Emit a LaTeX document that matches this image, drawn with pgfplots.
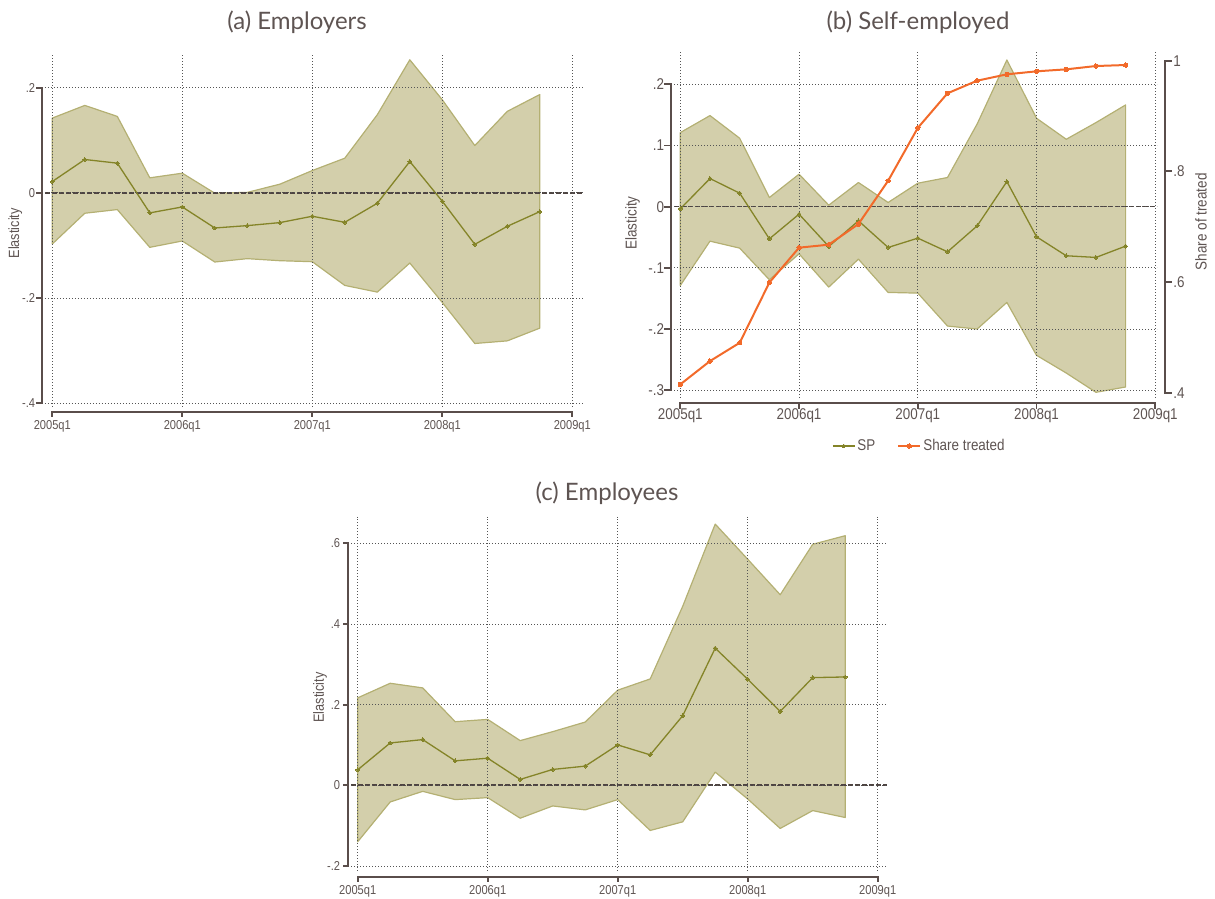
\documentclass[border=0pt]{standalone}
\usepackage{pgfplots}
\pgfplotsset{compat=1.18}
\usepackage{pgfplotstable}
\usepackage{fontspec}
\setmainfont{Lato}
\newfontfamily\condfont[FakeStretch=0.86]{Liberation Sans}

\definecolor{band}{RGB}{211,207,171}
\definecolor{bandedge}{RGB}{180,176,115}
\definecolor{olive}{RGB}{132,132,40}
\definecolor{orangeS}{RGB}{242,106,42}
\definecolor{spinec}{RGB}{90,78,75}
\definecolor{txt}{RGB}{94,84,82}
\definecolor{gridc}{RGB}{85,85,85}
\definecolor{zeroc}{RGB}{78,68,65}

\newcommand\tickA{\condfont\fontsize{12.9}{14}\selectfont}
\newcommand\tickB{\condfont\fontsize{15.6}{17}\selectfont}
\newcommand\labA{\condfont\fontsize{14.8}{16}\selectfont}
\newcommand\labB{\condfont\fontsize{15.7}{17}\selectfont}
\newcommand\titlefont{\fontsize{24}{28}\selectfont}

\tikzset{spineline/.style={draw=spinec, line width=1.8pt, line cap=rect}}

% point estimates by quarter (0 = 2005q1)
\pgfplotstableread{
q est
0   0.0216
1   0.0635
2   0.0565
3  -0.0380
4  -0.0267
5  -0.0667
6  -0.0622
7  -0.0565
8  -0.0444
9  -0.0559
10 -0.0197
11  0.0597
12 -0.0159
13 -0.0978
14 -0.0635
15 -0.0356
}\employers

\pgfplotstableread{
q est
0  -0.0035
1   0.0460
2   0.0221
3  -0.0525
4  -0.0122
5  -0.0650
6  -0.0231
7  -0.0666
8  -0.0514
9  -0.0737
10 -0.0313
11  0.0411
12 -0.0492
13 -0.0802
14 -0.0829
15 -0.0644
}\selfemp

\pgfplotstableread{
q share
0  0.4150
1  0.4571
2  0.4902
3  0.5990
4  0.6621
5  0.6675
6  0.7048
7  0.7830
8  0.8786
9  0.9411
10 0.9639
11 0.9754
12 0.9808
13 0.9844
14 0.9904
15 0.9922
}\treated

\pgfplotstableread{
q est
0   0.0384
1   0.1050
2   0.1133
3   0.0606
4   0.0672
5   0.0146
6   0.0393
7   0.0475
8   0.1001
9   0.0755
10  0.1725
11  0.3400
12  0.2629
13  0.1832
14  0.2670
15  0.2686
}\employees

\pgfplotsset{
  stata/.style={
    scale only axis, clip=false, axis on top,
    axis line style={draw=none}, major tick length=0pt,
    grid=major,
    major grid style={gridc, line width=0.8pt, dash pattern=on 0.9pt off 2.1pt},
    xtick={0,4,8,12,16},
    xticklabels={2005q1,2006q1,2007q1,2008q1,2009q1},
    tick label style={text=txt},
  },
  band area/.style={fill=band, draw=bandedge, line width=1.2pt, line join=round},
  sp line/.style={olive, line width=1.3pt, mark=*, mark size=1.9pt,
    mark options={fill=olive, draw=olive, line width=0pt}},
  zero line/.style={zeroc, line width=1.6pt, dash pattern=on 4.6pt off 2.4pt},
  legend image code/.code={%
    \draw[mark repeat=2, mark phase=2, #1]
      plot coordinates {(0pt,0pt) (11pt,0pt) (22pt,0pt)};},
}

\begin{document}
\begin{tikzpicture}
\path[use as bounding box] (0,0) rectangle (1215pt,899pt);

% ---------------- (a) Employers ----------------
\begin{axis}[stata,
  at={(45pt,492pt)}, anchor=south west,
  width=538pt, height=353.7pt,
  xmin=-0.2246, xmax=16.329, ymin=-0.407, ymax=0.2654,
  ytick={-0.4,-0.2,0,0.2}, yticklabels={-.4,-.2,0,.2},
  tick label style={font=\tickA},
  xticklabel style={yshift=-10.4pt},
  yticklabel style={xshift=-6.4pt},
  ylabel={Elasticity},
  every axis y label/.style={rotate=90, anchor=center, text=txt, font=\labA,
    at={(axis description cs:-0.0552,0.491)}},
]
% confidence band: upper bound forward, lower bound back
\addplot[band area] coordinates {
  (0,0.1422) (1,0.1663) (2,0.1454) (3,0.0286) (4,0.0375) (5,-0.0006)
  (6,0.0010) (7,0.0165) (8,0.0425) (9,0.0660) (10,0.1486) (11,0.2530)
  (12,0.1770) (13,0.0900) (14,0.1550) (15,0.1870)
  (15,-0.2571) (14,-0.2813) (13,-0.2863) (12,-0.2083) (11,-0.1333)
  (10,-0.1886) (9,-0.1759) (8,-0.1308) (7,-0.1289) (6,-0.1250)
  (5,-0.1314) (4,-0.0914) (3,-0.1035) (2,-0.0317) (1,-0.0387) (0,-0.0971)
} -- cycle;
\addplot[zero line] coordinates {(-0.2246,0) (16.329,0)};
\addplot[sp line] table[x=q, y=est]{\employers};
% offset axis spines
\draw[spineline] ([xshift=-2.7pt]axis cs:-0.2246,-0.4) -- ([xshift=-2.7pt]axis cs:-0.2246,0.2);
\pgfplotsinvokeforeach{-0.4,-0.2,0,0.2}{
  \draw[spineline] ([xshift=-2.7pt]axis cs:-0.2246,#1) -- ++(-5pt,0pt);}
\draw[spineline] ([yshift=-5pt]axis cs:0,-0.407) -- ([yshift=-5pt]axis cs:16,-0.407);
\pgfplotsinvokeforeach{0,4,8,12,16}{
  \draw[spineline] ([yshift=-5pt]axis cs:#1,-0.407) -- ++(0pt,-4.5pt);}
\end{axis}

% ---------------- (b) Self-employed ----------------
\begin{axis}[stata,
  at={(674pt,501pt)}, anchor=south west,
  width=483pt, height=346.3pt,
  xmin=-0.2122, xmax=16.057, ymin=-0.3126, ymax=0.2533,
  ytick={-0.3,-0.2,-0.1,0,0.1,0.2}, yticklabels={-.3,-.2,-.1,0,.1,.2},
  tick label style={font=\tickB},
  xticklabel style={yshift=-6.8pt},
  yticklabel style={xshift=-6.5pt},
  ylabel={Elasticity},
  every axis y label/.style={rotate=90, anchor=center, text=txt, font=\labB,
    at={(axis description cs:-0.0859,0.505)}},
]
\addplot[band area] coordinates {
  (0,0.1211) (1,0.1489) (2,0.1119) (3,0.0150) (4,0.0531) (5,0.0025)
  (6,0.0395) (7,0.0069) (8,0.0384) (9,0.0477) (10,0.1353) (11,0.2397)
  (12,0.1445) (13,0.1102) (14,0.1374) (15,0.1663)
  (15,-0.2946) (14,-0.3033) (13,-0.2718) (12,-0.2429) (11,-0.1564)
  (10,-0.1999) (9,-0.1950) (8,-0.1412) (7,-0.1401) (6,-0.0857)
  (5,-0.1314) (4,-0.0770) (3,-0.1194) (2,-0.0677) (1,-0.0563) (0,-0.1287)
} -- cycle;
\addplot[zero line] coordinates {(-0.2122,0) (16.057,0)};
\addplot[sp line] table[x=q, y=est]{\selfemp};
\draw[spineline] ([xshift=-3.3pt]axis cs:-0.2122,-0.3) -- ([xshift=-3.3pt]axis cs:-0.2122,0.2);
\pgfplotsinvokeforeach{-0.3,-0.2,-0.1,0,0.1,0.2}{
  \draw[spineline] ([xshift=-3.3pt]axis cs:-0.2122,#1) -- ++(-5.5pt,0pt);}
\draw[spineline] ([yshift=-4.7pt]axis cs:0,-0.3126) -- ([yshift=-4.7pt]axis cs:16,-0.3126);
\pgfplotsinvokeforeach{0,4,8,12,16}{
  \draw[spineline] ([yshift=-4.7pt]axis cs:#1,-0.3126) -- ++(0pt,-5pt);}
\end{axis}

\begin{axis}[
  scale only axis, clip=false,
  at={(674pt,501pt)}, anchor=south west,
  width=483pt, height=346.3pt,
  xmin=-0.2122, xmax=16.057, ymin=0.3904, ymax=1.0163,
  axis line style={draw=none}, major tick length=0pt,
  xtick=\empty,
  ytick={0.4,0.6,0.8,1}, yticklabels={.4,.6,.8,1},
  yticklabel pos=right,
  tick label style={font=\tickB, text=txt},
  yticklabel style={anchor=west, xshift=12.8pt},
  ylabel={Share of treated},
  every axis y label/.style={rotate=90, anchor=center, text=txt, font=\labB,
    at={(axis description cs:1.091,0.509)}},
  legend style={at={(axis description cs:0.508,-0.1386)}, anchor=center,
    draw=none, fill=none, font=\tickB, text=txt,
    legend columns=2,
    /tikz/every even column/.append style={column sep=20pt}},
]
\addlegendimage{sp line}
\addlegendentry{SP}
\addplot[orangeS, line width=2pt, mark=*, mark size=2.2pt,
  mark options={fill=orangeS, draw=orangeS, line width=0pt}]
  table[x=q, y=share]{\treated};
\addlegendentry{Share treated}
\draw[spineline] ([xshift=8pt]axis cs:16.057,0.4) -- ([xshift=8pt]axis cs:16.057,1);
\pgfplotsinvokeforeach{0.4,0.6,0.8,1}{
  \draw[spineline] ([xshift=8pt]axis cs:16.057,#1) -- ++(6pt,0pt);}
\end{axis}

% ---------------- (c) Employees ----------------
\begin{axis}[stata,
  at={(351pt,28pt)}, anchor=south west,
  width=536.3pt, height=354.3pt,
  xmin=-0.206, xmax=16.295, ymin=-0.2125, ymax=0.666,
  ytick={-0.2,0,0.2,0.4,0.6}, yticklabels={-.2,0,.2,.4,.6},
  tick label style={font=\tickA},
  xticklabel style={yshift=-11.4pt},
  yticklabel style={xshift=-7.4pt},
  ylabel={Elasticity},
  every axis y label/.style={rotate=90, anchor=center, text=txt, font=\labA,
    at={(axis description cs:-0.0576,0.49)}},
]
\addplot[band area] coordinates {
  (0,0.2168) (1,0.2530) (2,0.2415) (3,0.1577) (4,0.1634) (5,0.1108)
  (6,0.1330) (7,0.1568) (8,0.2358) (9,0.2637) (10,0.4438) (11,0.6477)
  (12,0.5605) (13,0.4725) (14,0.5975) (15,0.6189)
  (15,-0.0799) (14,-0.0627) (13,-0.1070) (12,-0.0340) (11,0.0327)
  (10,-0.0906) (9,-0.1120) (8,-0.0355) (7,-0.0610) (6,-0.0512)
  (5,-0.0816) (4,-0.0306) (3,-0.0355) (2,-0.0150) (1,-0.0413) (0,-0.1400)
} -- cycle;
\addplot[zero line] coordinates {(-0.206,0) (16.295,0)};
\addplot[sp line] table[x=q, y=est]{\employees};
\draw[spineline] ([xshift=-2.7pt]axis cs:-0.206,-0.2) -- ([xshift=-2.7pt]axis cs:-0.206,0.6);
\pgfplotsinvokeforeach{-0.2,0,0.2,0.4,0.6}{
  \draw[spineline] ([xshift=-2.7pt]axis cs:-0.206,#1) -- ++(-4.5pt,0pt);}
\draw[spineline] ([yshift=-5.7pt]axis cs:0,-0.2125) -- ([yshift=-5.7pt]axis cs:16,-0.2125);
\pgfplotsinvokeforeach{0,4,8,12,16}{
  \draw[spineline] ([yshift=-5.7pt]axis cs:#1,-0.2125) -- ++(0pt,-4.5pt);}
\end{axis}

% panel titles
\node[font=\titlefont, text=txt, anchor=base] at (297pt,869pt) {(a) Employers};
\node[font=\titlefont, text=txt, anchor=base] at (918pt,869pt) {(b) Self-employed};
\node[font=\titlefont, text=txt, anchor=base] at (607pt,398pt) {(c) Employees};
\end{tikzpicture}
\end{document}
